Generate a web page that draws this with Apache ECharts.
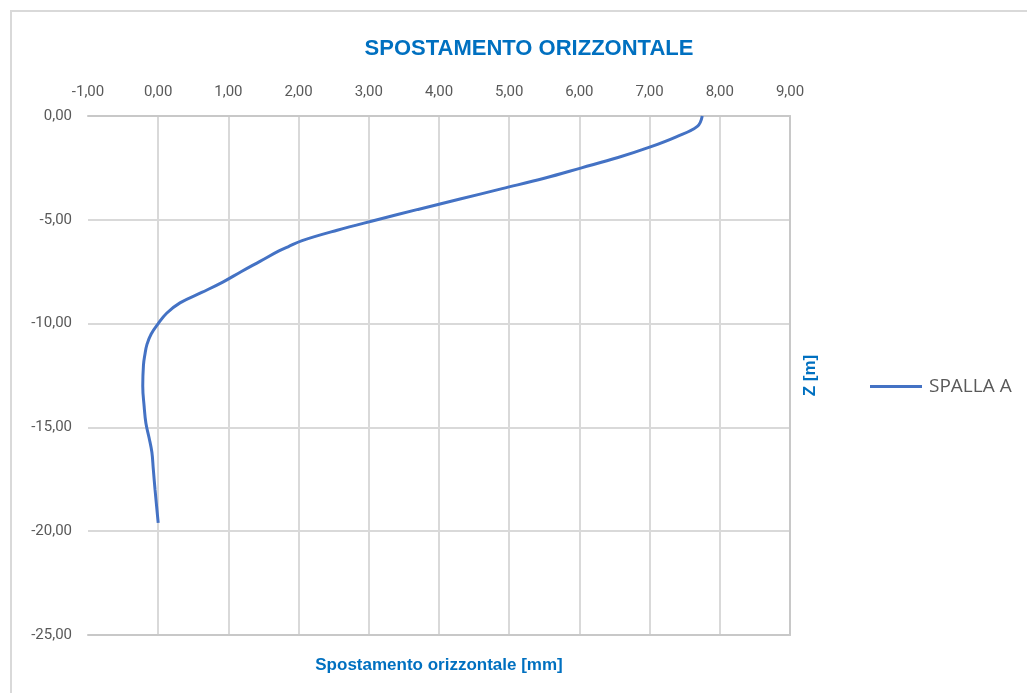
<!DOCTYPE html>
<html>
<head>
<meta charset="utf-8">
<script src="https://cdn.jsdelivr.net/npm/echarts@6/dist/echarts.min.js"></script>
<style>
  body { margin: 0; background: #fff; overflow: hidden; }
  #frame { position: absolute; left: 10px; top: 10px; width: 1100px; height: 800px; border: 2px solid #d9d9d9; box-sizing: border-box; }
  #chart { position: absolute; left: 0; top: 0; width: 1027px; height: 693px; }
</style>
</head>
<body>
<div id="frame"></div>
<div id="chart"></div>
<script>
// profondità [m]
const zValues = [0, -0.5, -1, -1.5, -2, -2.5, -3, -3.5, -4, -4.5, -5, -5.5, -6, -6.3, -6.5, -7, -7.5, -8, -8.5, -9, -9.5, -10,
  -10.5, -11, -11.5, -12, -13, -14, -14.8, -15.5, -16.2, -17, -18, -19.6]
// spostamento orizzontale [mm]
const spallaA = [7.75, 7.68, 7.38, 7.0, 6.55, 6.03, 5.5, 4.9, 4.3, 3.7, 3.12, 2.55, 2.05, 1.85, 1.72, 1.45, 1.18, 0.92,
  0.62, 0.31, 0.12, 0.0, -0.1, -0.16, -0.19, -0.21, -0.22, -0.2, -0.175, -0.13, -0.09, -0.07, -0.045, 0.0]
const xTicks = [-1, 9, 1]
const zTicks = [-25, 0, 5]

const fmt = v => v.toFixed(2).replace('.', ',')
const labelFont = { color: '#595959', fontFamily: 'Roboto', fontSize: 15 }
const nameFont = { color: '#0070c0', fontFamily: 'Liberation Sans', fontWeight: 'bold', fontSize: 17 }

const option = {
  animation: false,
  title: {
    text: 'SPOSTAMENTO ORIZZONTALE',
    left: 524,
    top: 33,
    textAlign: 'center',
    textStyle: { color: '#0070c0', fontFamily: 'Liberation Sans', fontWeight: 'bold', fontSize: 22 }
  },
  legend: {
    orient: 'vertical',
    left: 865,
    top: 372,
    icon: 'rect',
    itemWidth: 52,
    itemHeight: 3,
    data: ['SPALLA A'],
    textStyle: { color: '#595959', fontFamily: 'Open Sans', fontSize: 19, padding: [0, 0, 0, 2] }
  },
  grid: { left: 88, right: 237, top: 116, bottom: 58 },
  xAxis: [
    {
      type: 'value',
      position: 'top',
      min: xTicks[0], max: xTicks[1], interval: xTicks[2],
      axisLine: { show: true, onZero: false, lineStyle: { color: '#c8c8c8', width: 2 } },
      axisTick: { show: false },
      axisLabel: Object.assign({ margin: 16, formatter: fmt }, labelFont),
      splitLine: { show: true, showMinLine: false, showMaxLine: false, lineStyle: { color: '#d9d9d9', width: 2 } }
    },
    {
      type: 'value',
      position: 'bottom',
      min: xTicks[0], max: xTicks[1], interval: xTicks[2],
      name: 'Spostamento orizzontale [mm]',
      nameLocation: 'middle',
      nameGap: 22,
      nameTextStyle: nameFont,
      axisLine: { show: true, onZero: false, lineStyle: { color: '#c8c8c8', width: 2 } },
      axisTick: { show: false },
      axisLabel: { show: false },
      splitLine: { show: false }
    }
  ],
  yAxis: [
    {
      type: 'value',
      position: 'left',
      min: zTicks[0], max: zTicks[1], interval: zTicks[2],
      axisLine: { show: false, onZero: false },
      axisTick: { show: false },
      axisLabel: Object.assign({ margin: 16, formatter: fmt }, labelFont),
      splitLine: { show: true, lineStyle: { color: '#d9d9d9', width: 2 } }
    },
    {
      type: 'value',
      position: 'right',
      min: zTicks[0], max: zTicks[1], interval: zTicks[2],
      name: 'Z [m]',
      nameLocation: 'middle',
      nameRotate: 90,
      nameGap: 12,
      nameTextStyle: nameFont,
      axisLine: { show: true, onZero: false, lineStyle: { color: '#c8c8c8', width: 2 } },
      axisTick: { show: false },
      axisLabel: { show: false },
      splitLine: { show: false }
    }
  ],
  series: [
    {
      name: 'SPALLA A',
      type: 'line',
      xAxisIndex: 0,
      yAxisIndex: 0,
      smooth: 0.4,
      symbol: 'none',
      lineStyle: { color: '#4472c4', width: 3 },
      itemStyle: { color: '#4472c4' },
      data: zValues.map((z, i) => [spallaA[i], z])
    }
  ]
}

const myChart = echarts.init(document.getElementById('chart'))
myChart.setOption(option, true)
</script>
</body>
</html>
